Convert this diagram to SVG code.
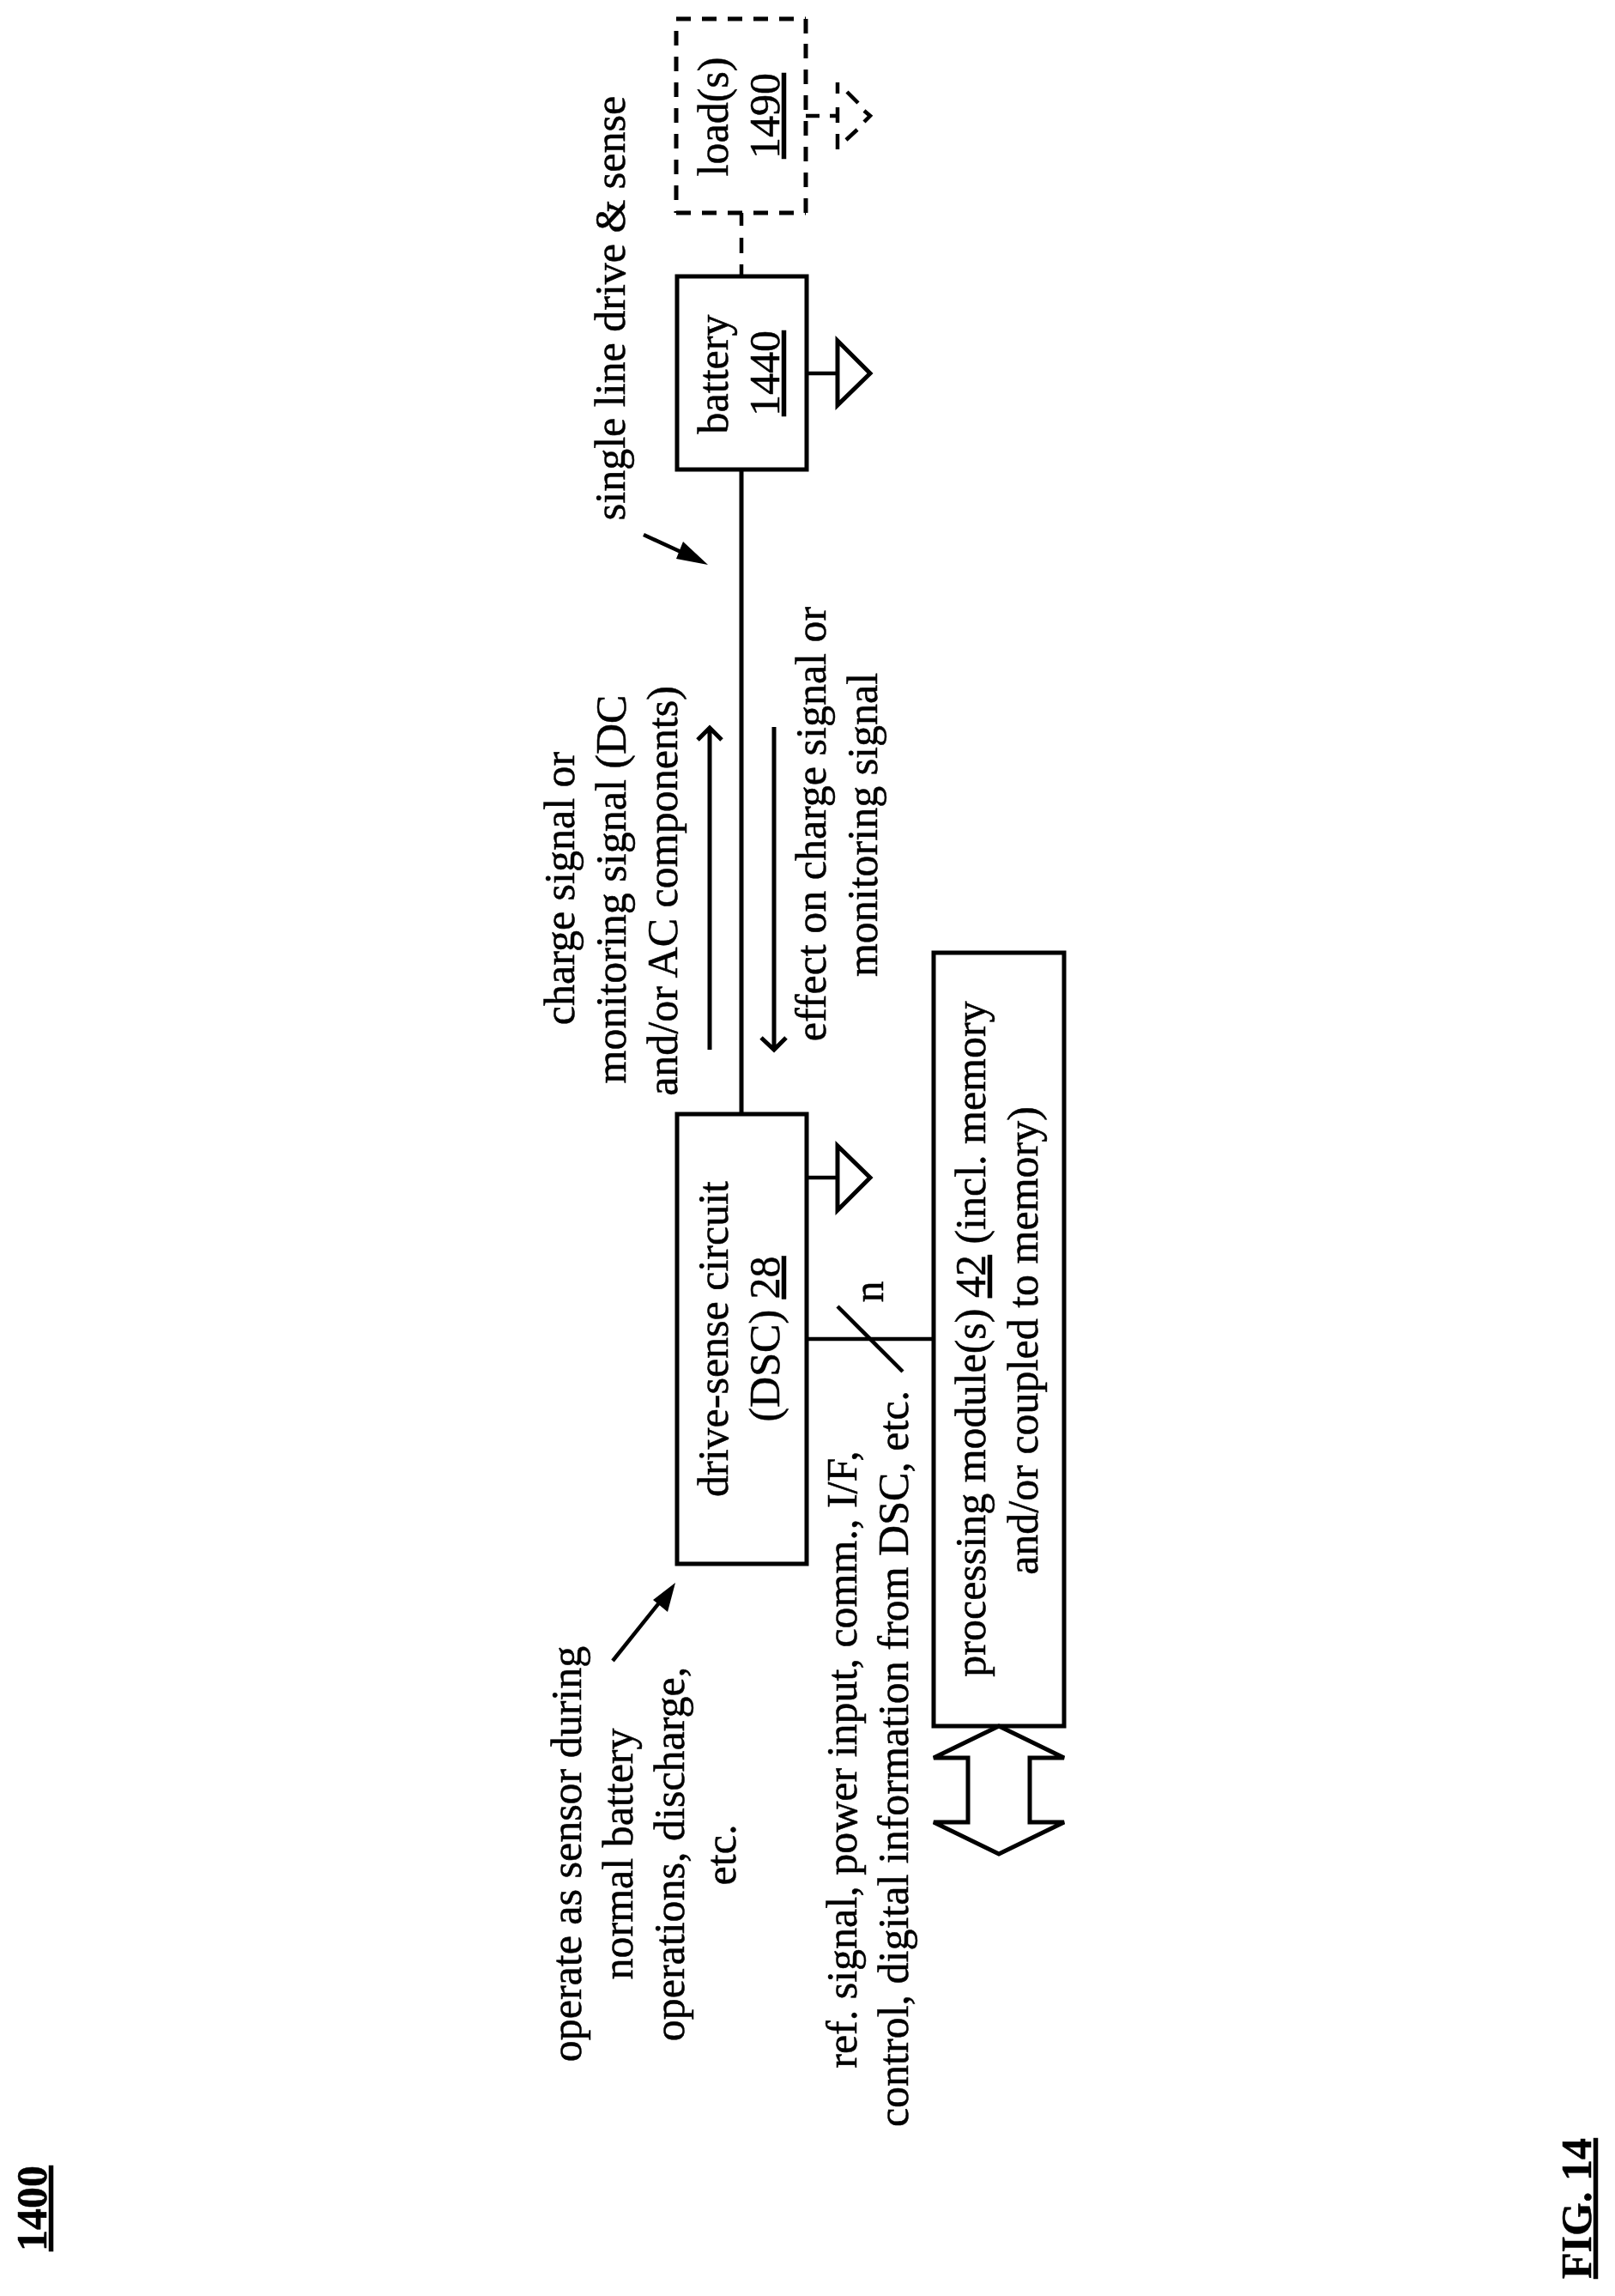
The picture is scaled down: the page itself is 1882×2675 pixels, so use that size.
<svg xmlns="http://www.w3.org/2000/svg" width="1882" height="2675" viewBox="0 0 1882 2675">
<style>
text{font-family:"Liberation Serif","Times New Roman",serif;font-size:50px;fill:#000;stroke:#000;stroke-width:.5;text-anchor:middle}
.b{font-weight:700}
.l{fill:none;stroke:#000;stroke-width:5}
.t{fill:none;stroke:#000;stroke-width:4.5}
.bx{fill:#fff;stroke:#000;stroke-width:5}
.d{fill:none;stroke:#000;stroke-width:5;stroke-dasharray:17 13}
.f{fill:#000}
</style>
<rect width="1882" height="2675" fill="#fff"/>
<g id="connectors">
<path class="l" d="M864 322V1298"/>
<path class="t" d="M864 248V263M864 277V295M864 308V322"/>
<path class="t" d="M940 435H976"/>
<path class="t" d="M940 1372H976"/>
<path class="t" d="M940 1560H1088"/>
<path class="t" d="M976 1522L1052 1598"/>
<path class="t" d="M939 135H955M967 135H978"/>
<path class="t" d="M750 623L800 646"/>
<path class="f" d="M825 658L788 651L796 631z"/>
<path class="t" d="M714 1935L770 1865"/>
<path class="f" d="M787 1844L778 1878L761 1864z"/>
<path class="l" d="M827 1223V849M813 862L827 848L841 862"/>
<path class="l" d="M902 847V1222M887 1209L902 1223L916 1209"/>
</g>
<g id="label-1400"><text class="b" transform="translate(54 2573) rotate(-90)" text-decoration="underline">1400</text></g>
<g id="label-fig"><text class="b" transform="translate(1854 2573) rotate(-90)" text-decoration="underline">FIG. 14</text></g>
<g id="load">
<path class="d" d="M788 22H939M788 248H939M788 36V248M939 51V248M939 22V45"/>
<text transform="translate(848 136) rotate(-90)">load(s)</text>
<text transform="translate(908 135) rotate(-90)" text-decoration="underline">1490</text>
</g>
<g id="load-ground"><path class="t" d="M976 96V109M976 125V143M976 156V174M987 107L1000 120M1007 129L1014 135L1007 142M986 163L999 151"/></g>
<g id="battery">
<rect class="bx" x="789" y="322" width="151" height="225"/>
<text transform="translate(848 436) rotate(-90)">battery</text>
<text transform="translate(908 435) rotate(-90)" text-decoration="underline">1440</text>
</g>
<g id="battery-ground"><path class="bx" d="M976 397V472L1014 435z"/></g>
<g id="dsc">
<rect class="bx" x="789" y="1298" width="151" height="524"/>
<text transform="translate(848 1560) rotate(-90)">drive-sense circuit</text>
<text transform="translate(908 1560) rotate(-90)">(DSC) <tspan text-decoration="underline">28</tspan></text>
</g>
<g id="dsc-ground"><path class="bx" d="M976 1335V1410L1014 1372z"/></g>
<g id="pm">
<rect class="bx" x="1088" y="1110" width="152" height="901"/>
<text transform="translate(1148 1560) rotate(-90)">processing module(s) <tspan text-decoration="underline">42</tspan> (incl. memory</text>
<text transform="translate(1209 1562) rotate(-90)">and/or coupled to memory)</text>
</g>
<g id="bus-arrow"><path class="bx" d="M1164 2011L1240 2048H1200V2123H1240L1164 2160L1088 2123H1128V2048H1088z"/></g>
<g id="labels">
<text transform="translate(728 359) rotate(-90)">single line drive &amp; sense</text>
<text transform="translate(669 1035) rotate(-90)">charge signal or</text>
<text transform="translate(729 1036) rotate(-90)">monitoring signal (DC</text>
<text transform="translate(789 1038) rotate(-90)">and/or AC components)</text>
<text transform="translate(962 960) rotate(-90)">effect on charge signal or</text>
<text transform="translate(1022 961) rotate(-90)">monitoring signal</text>
<text transform="translate(677 2160) rotate(-90)">operate as sensor during</text>
<text transform="translate(737 2160) rotate(-90)">normal battery</text>
<text transform="translate(797 2160) rotate(-90)">operations, discharge,</text>
<text transform="translate(857 2161) rotate(-90)">etc.</text>
<text transform="translate(998 2050) rotate(-90)">ref. signal, power input, comm., I/F,</text>
<text transform="translate(1058 2049) rotate(-90)">control, digital information from DSC, etc.</text>
<text transform="translate(1029 1505) rotate(-90)">n</text>
</g>
</svg>
